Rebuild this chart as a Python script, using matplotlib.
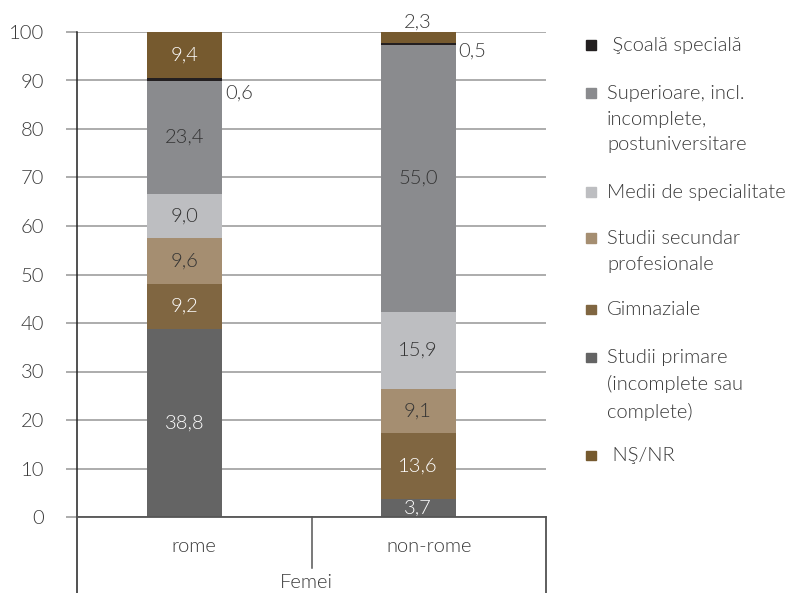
import matplotlib.pyplot as plt
from matplotlib.patches import Rectangle

plt.rcParams["font.family"] = ["Lato", "DejaVu Sans"]

# data
categories = ["rome", "non-rome"]
group_label = "Femei"
levels = ["Studii primare\n(incomplete sau\ncomplete)", "Gimnaziale",
          "Studii secundar\nprofesionale", "Medii de specialitate",
          "Superioare, incl.\nincomplete,\npostuniversitare",
          " Şcoală specială", " NŞ/NR"]
primare     = [38.8, 3.7]
gimnaziale  = [9.2, 13.6]
secundar    = [9.6, 9.1]
medii       = [9.0, 15.9]
superioare  = [23.4, 55.0]
scoala      = [0.6, 0.5]
nsnr        = [9.4, 2.3]
series = [primare, gimnaziale, secundar, medii, superioare, scoala, nsnr]

colors = ["#646464", "#806641", "#a58e71", "#bdbec1", "#8a8b8e", "#231f20", "#765a2f"]
label_colors = ["#ffffff", "#ffffff", "#333333", "#333333", "#333333", "#333333", "#ffffff"]
legend_order = [5, 4, 3, 2, 1, 0, 6]
legend_y = [45, 93, 192, 238, 309, 357, 455]
scoala_dy = [-3.2, -1.8]   # small labels sit beside the bar

TXT = "#3a3a3a"
FW = 300
FS = 14.5

W, H = 793, 593
fig = plt.figure(figsize=(W / 100, H / 100), dpi=100)
ax = fig.add_axes([77 / W, 1 - 517 / H, 469 / W, 485 / H])

x = list(range(len(categories)))
width = 0.321
bottom = [0.0] * len(categories)
for i, vals in enumerate(series):
    ax.bar(x, vals, width, bottom=bottom, color=colors[i], zorder=3)
    for j, v in enumerate(vals):
        txt = f"{v:.1f}".replace(".", ",")
        if i == 5:
            ax.text(x[j] + width / 2 + 0.012, bottom[j] + v + scoala_dy[j], txt,
                    ha="left", va="center", fontsize=FS, color=TXT, fontweight=FW)
        elif i == 6 and v < 5:
            ax.text(x[j], bottom[j] + v + 0.2, txt, ha="center", va="bottom",
                    fontsize=FS, color=TXT, fontweight=FW)
        else:
            ax.text(x[j], bottom[j] + v / 2, txt, ha="center", va="center",
                    fontsize=FS, color=label_colors[i], fontweight=FW)
        bottom[j] += v

ax.set_xlim(-0.4604, 1.548)
ax.set_ylim(0, 100)
ax.set_yticks(range(0, 101, 10))
ax.set_yticklabels([str(t) for t in range(0, 101, 10)], fontsize=FS,
                   fontweight=FW, color=TXT)
ax.set_xticks([])
ax.tick_params(axis="y", length=8, width=1.3, color="#a6a6a6", pad=15.5)
ax.grid(axis="y", color="#a6a6a6", linewidth=1.3, zorder=0)
for s in ["top", "right", "bottom", "left"]:
    ax.spines[s].set_visible(False)

# axis frame lines below the plot
ax.plot([0, 0], [-0.157, 1], transform=ax.transAxes, color="#222222", lw=1.1, clip_on=False)
ax.plot([1, 1], [-0.157, 0], transform=ax.transAxes, color="#333333", lw=1.1, clip_on=False)
ax.plot([0.5, 0.5], [-0.105, 0], transform=ax.transAxes, color="#555555", lw=1.1, clip_on=False)
ax.plot([0, 1], [0, 0], transform=ax.transAxes, color="#555555", lw=1.3, clip_on=False, zorder=4)

# category labels centred in their halves of the axis
for j, c in enumerate(categories):
    ax.text(0.25 + 0.5 * j, -0.06, c, transform=ax.transAxes, ha="center",
            va="center", fontsize=FS, color=TXT, fontweight=FW)
ax.text(0.49, -0.136, group_label, transform=ax.transAxes, ha="center", va="center",
        fontsize=FS, color=TXT, fontweight=FW)

# legend
for k, idx in enumerate(legend_order):
    yc = 1 - legend_y[k] / H
    fig.patches.append(Rectangle((586 / W, yc - 5 / H), 9.5 / W, 9.5 / H,
                                 transform=fig.transFigure, color=colors[idx]))
    fig.text(607 / W, yc + 8 / H, levels[idx], ha="left", va="top", fontsize=FS,
             color=TXT, fontweight=FW, linespacing=1.62)

fig.savefig("out.png", dpi=100)
